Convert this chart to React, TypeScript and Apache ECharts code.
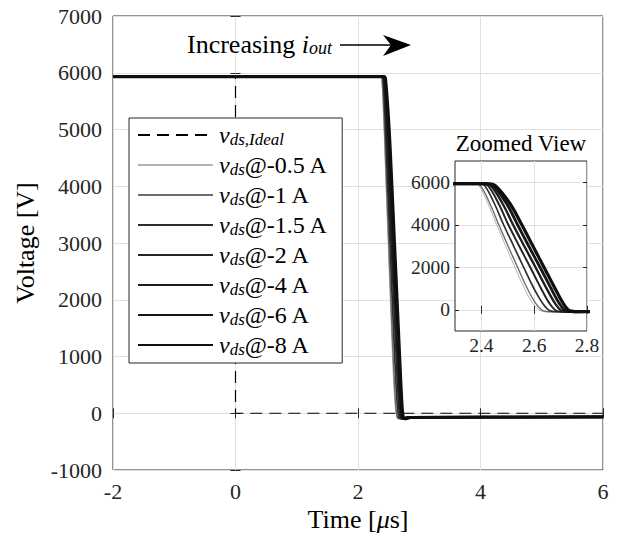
import React, { useEffect, useRef } from 'react';
import * as echarts from 'echarts';

const FONT = 'Liberation Serif';
const INK = '#262626';
const GRID = '#e0e0e0';

// Axis ticks
const timeMin = -2;
const timeMax = 6;
const timeStep = 2;
const voltMin = -1000;
const voltMax = 7000;
const voltStep = 1000;
const zoomTimeMin = 2.3;
const zoomTimeMax = 2.8;
const zoomTimeTicks = [2.4, 2.6, 2.8];
const zoomVoltMin = -1000;
const zoomVoltMax = 7000;
const zoomVoltTicks = [0, 2000, 4000, 6000];

// Load current of each turn-off transient
const currentLabels = ['-0.5 A', '-1 A', '-1.5 A', '-2 A', '-4 A', '-6 A', '-8 A'];

// Ideal drain-source voltage step (time in µs, voltage in V)
const vdsIdeal = [[-2, 5950], [0, 5950], [0, 0], [6, 0]];

// Measured drain-source voltage for each current (time in µs, voltage in V)
const vds0p5A = [[-2, 5930], [2.37, 5930], [2.39, 5850], [2.425, 5000], [2.458, 4000], [2.492, 3000], [2.527, 2000], [2.563, 1000], [2.595, 300], [2.625, -50], [2.655, -95], [2.75, -75], [6, -65]];
const vds1A = [[-2, 5930], [2.375, 5930], [2.396, 5850], [2.432, 5000], [2.466, 4000], [2.501, 3000], [2.537, 2000], [2.574, 1000], [2.606, 300], [2.635, -50], [2.665, -95], [2.76, -75], [6, -65]];
const vds1p5A = [[-2, 5930], [2.39, 5930], [2.412, 5850], [2.449, 5000], [2.484, 4000], [2.522, 3000], [2.56, 2000], [2.599, 1000], [2.632, 300], [2.66, -50], [2.69, -95], [2.78, -75], [6, -65]];
const vds2A = [[-2, 5930], [2.4, 5930], [2.424, 5850], [2.465, 5000], [2.502, 4000], [2.543, 3000], [2.585, 2000], [2.626, 1000], [2.658, 300], [2.685, -50], [2.715, -95], [2.8, -75], [6, -65]];
const vds4A = [[-2, 5930], [2.41, 5930], [2.435, 5850], [2.48, 5000], [2.52, 4000], [2.562, 3000], [2.605, 2000], [2.647, 1000], [2.679, 300], [2.705, -50], [2.735, -95], [2.82, -75], [6, -65]];
const vds6A = [[-2, 5930], [2.418, 5930], [2.444, 5850], [2.495, 5000], [2.537, 4000], [2.579, 3000], [2.622, 2000], [2.664, 1000], [2.695, 300], [2.72, -50], [2.75, -95], [2.84, -75], [6, -65]];
const vds8A = [[-2, 5930], [2.425, 5930], [2.452, 5850], [2.508, 5000], [2.553, 4000], [2.595, 3000], [2.637, 2000], [2.679, 1000], [2.71, 300], [2.735, -50], [2.765, -95], [2.86, -75], [6, -65]];

const measured = [vds0p5A, vds1A, vds1p5A, vds2A, vds4A, vds6A, vds8A];

// Line look for each current, thin/light to thick/dark
const lineColors = ['#b3b3b3', '#6e6e6e', '#2e2e2e', '#262626', '#1e1e1e', '#161616', '#0f0f0f'];
const lineWidths = [1, 1.4, 1.7, 2, 2.4, 2.8, 3.2];

const IDEAL_NAME = 'ideal';
const measuredName = (i: number) => 'vds@' + currentLabels[i];

// Math-style labels: italic symbol with a lowered, smaller subscript
const rich = (size: number) => ({
  r: { fontFamily: FONT, fontSize: size, color: '#000', lineHeight: 26 },
  i: { fontFamily: FONT, fontSize: size, fontStyle: 'italic', color: '#000', lineHeight: 26 },
  s: {
    fontFamily: FONT,
    fontSize: Math.round(size * 0.7),
    fontStyle: 'italic',
    color: '#000',
    lineHeight: 10,
    verticalAlign: 'bottom',
  },
});

const plain = (v: number) => String(v);

export default function App() {
  const ref = useRef<HTMLDivElement>(null);

  useEffect(() => {
    if (!ref.current) return;
    const chart = echarts.init(ref.current, undefined, { renderer: 'svg' });

    const mainTick = { show: true, inside: true, length: 5, lineStyle: { color: INK } };

    const series: any[] = [
      {
        name: IDEAL_NAME,
        type: 'line',
        xAxisIndex: 0,
        yAxisIndex: 0,
        data: vdsIdeal,
        symbol: 'none',
        itemStyle: { color: '#000' },
        lineStyle: { color: '#000', width: 1.2, type: [12, 7] },
        z: 2,
      },
    ];
    measured.forEach((d, i) => {
      series.push({
        name: measuredName(i),
        type: 'line',
        xAxisIndex: 0,
        yAxisIndex: 0,
        data: d,
        symbol: 'none',
        smooth: 0.35,
        itemStyle: { color: lineColors[i] },
        lineStyle: { color: lineColors[i], width: lineWidths[i] },
        z: 3,
      });
    });
    measured.forEach((d, i) => {
      series.push({
        name: 'zoom ' + currentLabels[i],
        type: 'line',
        xAxisIndex: 1,
        yAxisIndex: 1,
        data: d,
        symbol: 'none',
        smooth: 0.35,
        itemStyle: { color: lineColors[i] },
        lineStyle: { color: lineColors[i], width: lineWidths[i] },
        z: 6,
      });
    });

    chart.setOption({
      animation: false,
      backgroundColor: '#fff',
      grid: [
        { left: 113, right: 27, top: 16, bottom: 69, show: true, borderColor: INK, borderWidth: 1, backgroundColor: 'transparent' },
        { left: 455, top: 161, width: 132, height: 170, show: true, borderColor: INK, borderWidth: 1, backgroundColor: '#fff', z: 4 },
      ],
      xAxis: [
        {
          type: 'value', gridIndex: 0, min: timeMin, max: timeMax, interval: timeStep,
          axisLine: { show: false }, axisTick: mainTick,
          axisLabel: { fontFamily: FONT, fontSize: 22, color: INK, margin: 10, formatter: plain },
          splitLine: { show: true, lineStyle: { color: GRID } },
          name: '{r|Time [}{i|μ}{r|s]}', nameLocation: 'middle', nameGap: 29,
          nameTextStyle: { rich: rich(26) },
        },
        {
          type: 'value', gridIndex: 1, min: zoomTimeMin, max: zoomTimeMax,
          axisLine: { show: false },
          axisTick: { show: true, inside: true, length: 4, customValues: zoomTimeTicks, lineStyle: { color: INK } },
          axisLabel: { fontFamily: FONT, fontSize: 19.5, color: INK, margin: 4, customValues: zoomTimeTicks, formatter: (v: number) => v.toFixed(1) },
          splitLine: { show: true, lineStyle: { color: GRID } },
          z: 5,
        },
        {
          type: 'value', gridIndex: 0, position: 'top', min: timeMin, max: timeMax, interval: timeStep,
          axisLine: { show: false }, axisTick: mainTick, axisLabel: { show: false }, splitLine: { show: false },
        },
        {
          type: 'value', gridIndex: 1, position: 'top', min: zoomTimeMin, max: zoomTimeMax,
          axisLine: { show: false },
          axisTick: { show: true, inside: true, length: 4, customValues: zoomTimeTicks, lineStyle: { color: INK } },
          axisLabel: { show: false }, splitLine: { show: false }, z: 5,
        },
      ],
      yAxis: [
        {
          type: 'value', gridIndex: 0, min: voltMin, max: voltMax, interval: voltStep,
          axisLine: { show: false }, axisTick: mainTick,
          axisLabel: { fontFamily: FONT, fontSize: 22, color: INK, margin: 11, formatter: plain },
          splitLine: { show: true, lineStyle: { color: GRID } },
          name: 'Voltage [V]', nameLocation: 'middle', nameGap: 75,
          nameTextStyle: { fontFamily: FONT, fontSize: 26, color: '#000' },
        },
        {
          type: 'value', gridIndex: 1, min: zoomVoltMin, max: zoomVoltMax,
          axisLine: { show: false },
          axisTick: { show: true, inside: true, length: 4, customValues: zoomVoltTicks, lineStyle: { color: INK } },
          axisLabel: { fontFamily: FONT, fontSize: 19.5, color: INK, margin: 5, customValues: zoomVoltTicks, formatter: plain },
          splitLine: { show: true, lineStyle: { color: GRID } },
          z: 5,
        },
        {
          type: 'value', gridIndex: 0, position: 'right', min: voltMin, max: voltMax, interval: voltStep,
          axisLine: { show: false }, axisTick: mainTick, axisLabel: { show: false }, splitLine: { show: false },
        },
        {
          type: 'value', gridIndex: 1, position: 'right', min: zoomVoltMin, max: zoomVoltMax,
          axisLine: { show: false },
          axisTick: { show: true, inside: true, length: 4, customValues: zoomVoltTicks, lineStyle: { color: INK } },
          axisLabel: { show: false }, splitLine: { show: false }, z: 5,
        },
      ],
      legend: {
        orient: 'vertical',
        left: 129,
        top: 118,
        data: [IDEAL_NAME, ...currentLabels.map((_, i) => measuredName(i))],
        selectedMode: false,
        itemWidth: 75,
        itemHeight: 26,
        itemGap: 5,
        padding: [5, 14, 5, 8],
        borderColor: INK,
        borderWidth: 1,
        borderRadius: 0,
        backgroundColor: '#fff',
        itemStyle: { opacity: 0 },
        formatter: (name: string) => {
          if (name === IDEAL_NAME) return '{i|v}{s|ds,Ideal}';
          return '{i|v}{s|ds}{r|' + name.slice(3) + '}';
        },
        textStyle: { rich: rich(24), padding: [0, 0, 0, 1] },
        z: 8,
      },
      graphic: [
        {
          type: 'text',
          x: 521,
          y: 143,
          style: { text: 'Zoomed View', fontFamily: FONT, fontSize: 23, fill: '#000', align: 'center', verticalAlign: 'middle' },
          z: 10,
        },
        {
          type: 'text',
          x: 187,
          y: 44,
          style: {
            text: '{r|Increasing }{i|i}{s|out}',
            rich: rich(26),
            verticalAlign: 'middle',
            align: 'left',
          },
          z: 10,
        },
        {
          type: 'line',
          shape: { x1: 340, y1: 45, x2: 394, y2: 45 },
          style: { stroke: '#000', lineWidth: 1.5 },
          z: 10,
        },
        {
          type: 'polygon',
          shape: { points: [[411, 45], [383, 35], [391, 45], [383, 56]] },
          style: { fill: '#000' },
          z: 10,
        },
      ],
      series,
    });

    return () => chart.dispose();
  }, []);

  return <div ref={ref} style={{ position: 'fixed', left: 0, top: 0, width: 630, height: 539 }} />;
}
